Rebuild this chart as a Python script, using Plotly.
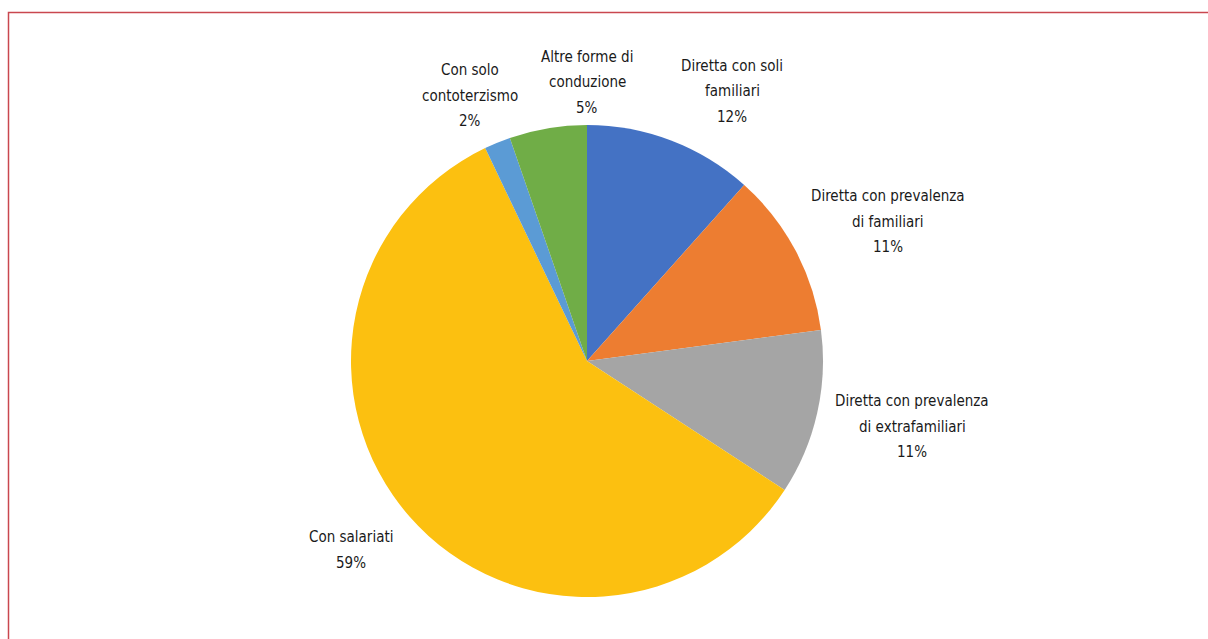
import plotly.graph_objects as go

W, H = 1208, 639

categories = [
    "Diretta con soli familiari",
    "Diretta con prevalenza di familiari",
    "Diretta con prevalenza di extrafamiliari",
    "Con salariati",
    "Con solo contoterzismo",
    "Altre forme di conduzione",
]
label_lines = [
    ["Diretta con soli", "familiari"],
    ["Diretta con prevalenza", "di familiari"],
    ["Diretta con prevalenza", "di extrafamiliari"],
    ["Con salariati"],
    ["Con solo", "contoterzismo"],
    ["Altre forme di", "conduzione"],
]
values = [11.6, 11.3, 11.3, 58.7, 1.8, 5.3]
colors = ["#4472C4", "#ED7D31", "#A5A5A5", "#FCC010", "#5B9BD5", "#70AD47"]

# label block positions (pixel centre x, first-line y)
label_pos = [(732, 66), (888, 196), (912, 401), (351, 537), (470, 70), (587, 57)]
line_gap = 25.5

cx, cy, r = 587, 361, 236

fig = go.Figure(go.Pie(
    labels=categories,
    values=values,
    marker=dict(colors=colors, line=dict(width=0)),
    sort=False,
    direction="clockwise",
    rotation=0,
    textinfo="none",
    hoverinfo="label+percent",
    showlegend=False,
    domain=dict(x=[(cx - r) / W, (cx + r) / W],
                y=[(H - cy - r) / H, (H - cy + r) / H]),
))

total = sum(values)
font = dict(family="DejaVu Sans Condensed, Liberation Sans Narrow, sans-serif",
            size=15, color="#1a1a1a")
annotations = []
for lines, v, (px, py) in zip(label_lines, values, label_pos):
    all_lines = lines + [f"{round(v / total * 100)}%"]
    for i, t in enumerate(all_lines):
        y = py + i * line_gap
        annotations.append(dict(
            x=px / W, y=1 - y / H, xref="paper", yref="paper",
            text=t, showarrow=False, font=font,
            xanchor="center", yanchor="middle",
        ))

fig.update_layout(
    width=W, height=H,
    margin=dict(l=0, r=0, t=0, b=0),
    paper_bgcolor="white",
    plot_bgcolor="white",
    annotations=annotations,
    shapes=[dict(type="rect", xref="paper", yref="paper",
                 x0=8.5 / W, x1=1.05, y0=-0.05, y1=1 - 12.5 / H,
                 line=dict(color="#C9474F", width=1.5))],
)

fig.write_html("out.html", config={"displayModeBar": False},
               post_script="document.body.style.margin='0';")
